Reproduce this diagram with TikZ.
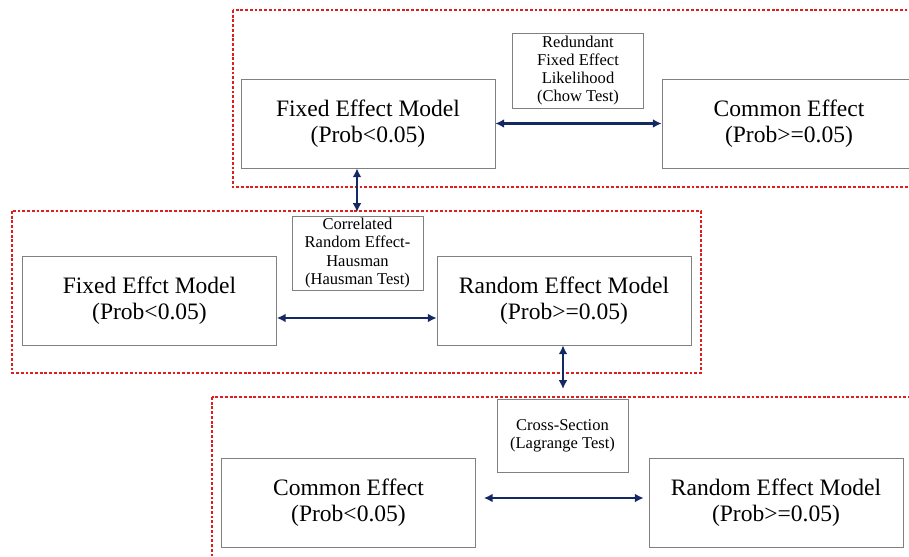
\documentclass[tikz,border=0pt]{standalone}
\usepackage{fontspec}
\setmainfont{Liberation Serif}
\usetikzlibrary{arrows.meta}
\newdimen\pxu
\pxu=0.02cm
\definecolor{dotred}{RGB}{222,30,30}
\definecolor{navy}{RGB}{20,40,100}

\begin{document}
\begin{tikzpicture}[x=0.02cm,y=-0.02cm,
    region/.style={draw=dotred,line width=1.6pt,dash pattern=on 1.6pt off 1.1pt},
    biarrow/.style={draw=navy,line width=1.3pt,
        {Latex[length=5pt,width=5pt]}-{Latex[length=5pt,width=5pt]}}]
\clip (0,0) rectangle (909,557);
\fill[white] (0,0) rectangle (909,557);
% dotted regions
\draw[region] (233,10) rectangle (915,187);
\draw[region] (12,211) rectangle (701,373);
\draw[region] (212,397) rectangle (915,570);
% model boxes
\begin{scope}[every node/.style={draw=gray,thin,rectangle,align=center,
              minimum width=254\pxu,minimum height=89\pxu,inner sep=0pt,
              font=\fontsize{13.4}{14.6}\selectfont}]
    \node (fe1) at (368,123.5) {Fixed Effect Model\\(Prob<0.05)};
    \node (ce1) at (789,123.5) {Common Effect\\(Prob>=0.05)};
    \node (fe2) at (149.5,300.5) {Fixed Effct Model\\(Prob<0.05)};
    \node (re2) at (564,300.5) {Random Effect Model\\(Prob>=0.05)};
    \node (ce3) at (348.5,503) {Common Effect\\(Prob<0.05)};
    \node (re3) at (776,503) {Random Effect Model\\(Prob>=0.05)};
\end{scope}
% test boxes
\begin{scope}[every node/.style={draw=gray,thin,rectangle,align=center,
              minimum width=131\pxu,inner sep=0pt,
              font=\fontsize{9.4}{10.3}\selectfont}]
    \node[minimum height=75\pxu] (chow) at (578,70.5) {Redundant\\Fixed Effect\\Likelihood\\(Chow Test)};
    \node[minimum height=74\pxu] (haus) at (357.5,253) {Correlated\\Random Effect-\\Hausman\\(Hausman Test)};
    \node[minimum height=73\pxu] (lagr) at (562.5,435.5) {Cross-Section\\(Lagrange Test)};
\end{scope}
\coordinate (d1) at (357,212);
\coordinate (d2) at (563,389);
\coordinate (h2) at (0,318);
\coordinate (h3) at (0,498);
% connectors
\draw[biarrow] (fe1) -- (ce1);
\draw[biarrow] (d1 |- fe1.south) -- (d1);
\draw[biarrow] (fe2.east |- h2) -- (re2.west |- h2);
\draw[biarrow] (d2 |- re2.south) -- (d2);
\draw[biarrow,shorten <=8\pxu,shorten >=5\pxu] (ce3.east |- h3) -- (re3.west |- h3);
\end{tikzpicture}
\end{document}
